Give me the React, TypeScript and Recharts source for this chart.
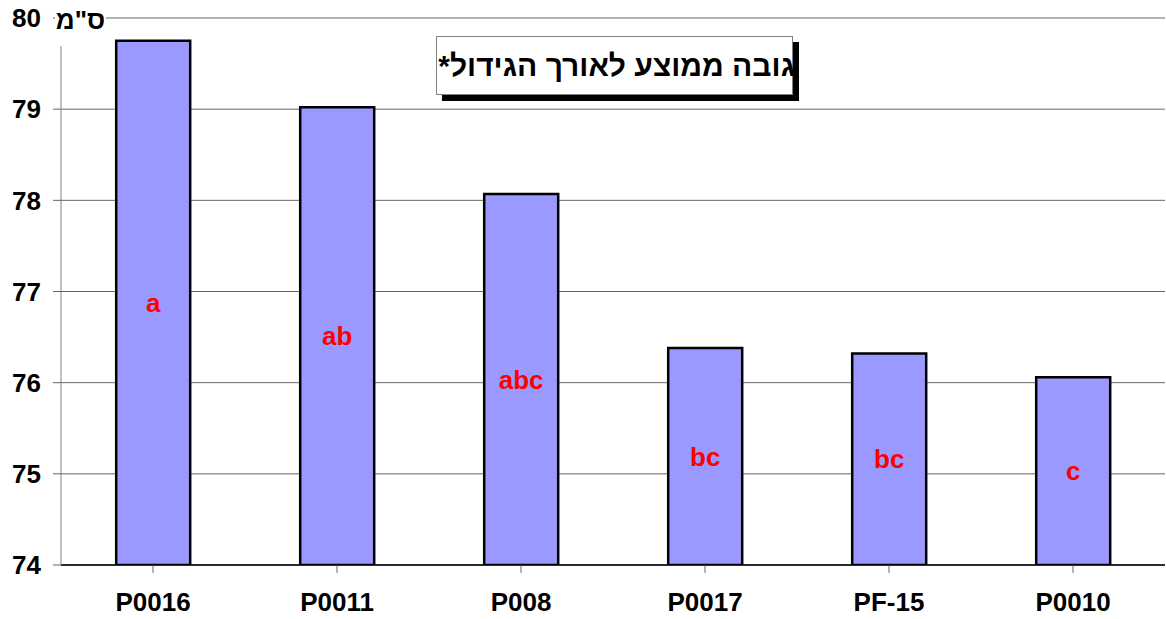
import { BarChart, Bar, XAxis, YAxis, CartesianGrid, LabelList } from 'recharts';

const lines = ['P0016', 'P0011', 'P008', 'P0017', 'PF-15', 'P0010'];
const heights = [79.75, 79.02, 78.07, 76.38, 76.32, 76.06];
const letters = ['a', 'ab', 'abc', 'bc', 'bc', 'c'];
const yTicks = [74, 75, 76, 77, 78, 79, 80];

const chartData = lines.map((name, i) => ({
  name,
  height: heights[i],
  letter: letters[i],
}));

const FONT = '"Liberation Sans", Arial, sans-serif';

export default function App() {
  return (
    <div style={{ position: 'absolute', left: 0, top: 0, width: 1166, height: 619, fontFamily: FONT }}>
      <BarChart
        width={1166}
        height={619}
        data={chartData}
        margin={{ top: 18, right: 1, bottom: 0, left: 0 }}
        barCategoryGap="30%"
      >
        <CartesianGrid vertical={false} stroke="#666" strokeWidth={1} />
        <XAxis
          dataKey="name"
          height={54}
          axisLine={{ stroke: '#000', strokeWidth: 1.5 }}
          tickLine={{ stroke: '#666' }}
          tickSize={8}
          tickMargin={20}
          interval={0}
          tick={{ fill: '#000', fontSize: 26, fontWeight: 'bold', fontFamily: FONT }}
        />
        <YAxis
          width={61}
          domain={[74, 80]}
          ticks={yTicks}
          allowDataOverflow
          axisLine={{ stroke: '#808080' }}
          tickLine={{ stroke: '#666' }}
          tickSize={8}
          tickMargin={12}
          tick={{ fill: '#000', fontSize: 26, fontWeight: 'bold', fontFamily: FONT }}
        />
        <Bar dataKey="height" fill="#9999FF" stroke="#000" strokeWidth={2.5} isAnimationActive={false}>
          <LabelList
            dataKey="letter"
            position="center"
            fill="#FF0000"
            style={{ fontSize: 26, fontWeight: 'bold', fontFamily: FONT }}
          />
        </Bar>
      </BarChart>
      <div
        style={{
          position: 'absolute',
          left: 55,
          top: 0,
          width: 51,
          height: 46,
          background: '#fff',
          direction: 'rtl',
          fontSize: 26,
          fontWeight: 'bold',
          lineHeight: '40px',
          textAlign: 'center',
        }}
      >
        ס"מ
      </div>
      <div
        style={{
          position: 'absolute',
          left: 436,
          top: 36,
          width: 357,
          height: 59,
          background: '#fff',
          border: '1px solid #808080',
          boxSizing: 'border-box',
          boxShadow: '6px 6px 0 #000',
          direction: 'rtl',
          fontSize: 30,
          fontWeight: 'bold',
          lineHeight: '57px',
          whiteSpace: 'nowrap',
          marginRight: -3,
          textAlign: 'right',
          overflow: 'visible',
        }}
      >
        <span style={{ position: 'relative', right: -3 }}>גובה ממוצע לאורך הגידול*</span>
      </div>
    </div>
  );
}
